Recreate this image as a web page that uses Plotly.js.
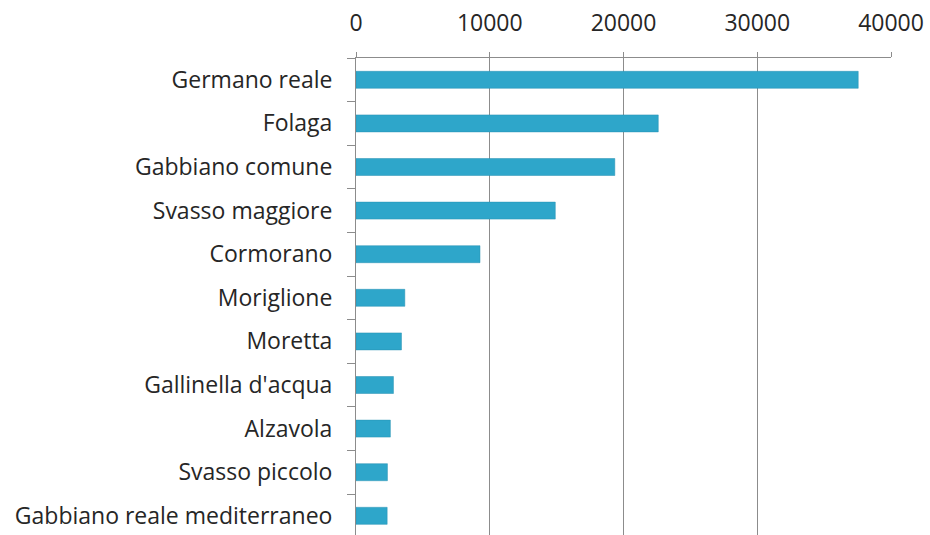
<!DOCTYPE html>
<html>
<head>
<meta charset="utf-8">
<script src="https://cdn.plot.ly/plotly-3.0.1.min.js"></script>
<style>html,body{margin:0;padding:0;background:#fff;}#chart{width:930px;height:535px;}</style>
</head>
<body>
<div id="chart"></div>
<script>
const species = ["Germano reale", "Folaga", "Gabbiano comune", "Svasso maggiore", "Cormorano", "Moriglione", "Moretta", "Gallinella d'acqua", "Alzavola", "Svasso piccolo", "Gabbiano reale mediterraneo"];
const counts = [37550, 22600, 19350, 14900, 9270, 3650, 3400, 2800, 2570, 2350, 2330];
const xTicks = [0, 10000, 20000, 30000, 40000];

const trace = {
  type: 'bar',
  orientation: 'h',
  y: species,
  x: counts,
  width: 0.39,
  marker: { color: '#2ea6ca', line: { color: '#2790b2', width: 0.5 } },
  hoverinfo: 'x+y'
};

const layout = {
  width: 930, height: 535,
  margin: { l: 356, r: 39, t: 58, b: 0, pad: 0 },
  paper_bgcolor: '#ffffff', plot_bgcolor: '#ffffff',
  font: { family: 'Open Sans, sans-serif', size: 22, color: '#262626' },
  showlegend: false,
  xaxis: {
    side: 'top', range: [0, 40000], tickvals: xTicks, ticktext: xTicks.map(String),
    showgrid: true, gridcolor: '#8c8c8c', gridwidth: 1,
    showline: true, linecolor: '#8c8c8c', linewidth: 1,
    ticks: 'outside', ticklen: 5, tickcolor: '#8c8c8c',
    zeroline: false, tickfont: { size: 23, color: '#262626' },
    ticklabelstandoff: 12, fixedrange: true
  },
  yaxis: {
    type: 'category', range: [10.44, -0.5],
    showline: true, linecolor: '#8c8c8c', linewidth: 1,
    ticks: 'outside', ticklen: 8, tickcolor: '#8c8c8c', tickson: 'boundaries',
    showgrid: false, zeroline: false, tickfont: { size: 23, color: '#262626' },
    ticklabelstandoff: 18, fixedrange: true
  }
};

Plotly.newPlot('chart', [trace], layout, { displayModeBar: false, staticPlot: true });
</script>
</body>
</html>
